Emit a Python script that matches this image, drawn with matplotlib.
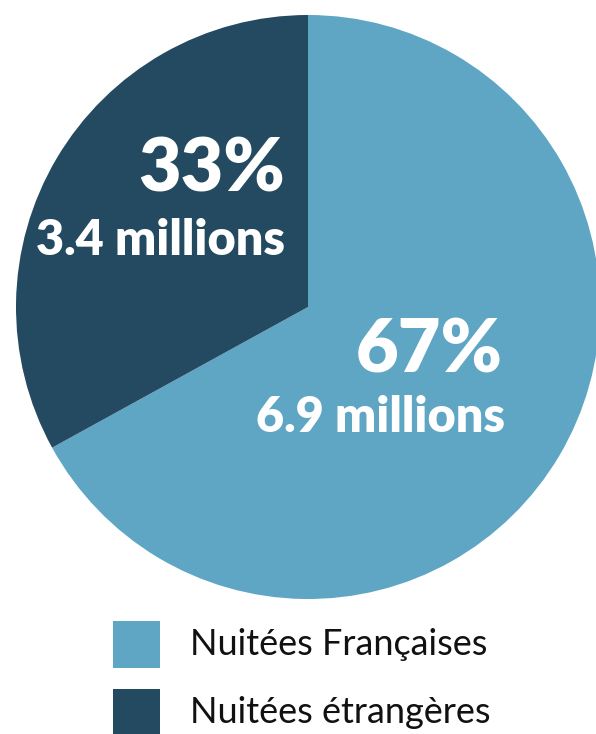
import matplotlib
matplotlib.use("Agg")
import matplotlib.pyplot as plt
from matplotlib.patches import Rectangle

# data
labels = ["Nuitées Françaises", "Nuitées étrangères"]
shares = [67, 33]
volumes = ["6.9 millions", "3.4 millions"]

LIGHT = "#5fa5c4"
DARK = "#234a60"
colors = [LIGHT, DARK]

W, H = 596, 734
fig = plt.figure(figsize=(W / 100, H / 100), dpi=100)
fig.patch.set_facecolor("white")

# pie: center (308, 307) px, radius 292 px
cx, cy, r = 308, 307, 292
ax = fig.add_axes([(cx - r) / W, (H - cy - r) / H, 2 * r / W, 2 * r / H])
ax.pie(shares, colors=colors, startangle=90, counterclock=False, radius=1,
       wedgeprops=dict(linewidth=0))
ax.set_xlim(-1, 1)
ax.set_ylim(-1, 1)
ax.set_aspect("equal")
ax.axis("off")

def px(x, y):
    return x / W, 1 - y / H

# labels in the slices (right aligned)
big = dict(family=["Lato", "DejaVu Sans"], weight="heavy", color="white", ha="right")
fig.text(*px(503, 372), f"{shares[0]}%", fontsize=53, va="baseline", **big)
fig.text(*px(505, 432), volumes[0], fontsize=35, va="baseline", **big)
fig.text(*px(285, 192), f"{shares[1]}%", fontsize=53, va="baseline", **big)
fig.text(*px(285, 255), volumes[1], fontsize=35, va="baseline", **big)

# legend
sq = 47
for i, (lab, col) in enumerate(zip(labels, colors)):
    top = 621 + i * 68
    fig.add_artist(Rectangle(px(113, top + sq), sq / W, sq / H,
                             transform=fig.transFigure, facecolor=col,
                             edgecolor="none"))
    fig.text(*px(190, top + sq / 2), lab, fontsize=26,
             family=["Lato", "DejaVu Sans"], weight="normal",
             color="#111111", ha="left", va="center")

fig.savefig("out.png", dpi=100, facecolor="white")
